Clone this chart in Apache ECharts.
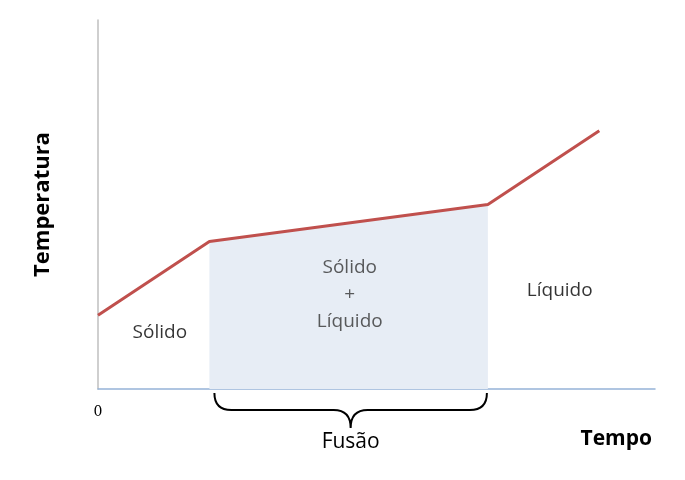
<!DOCTYPE html>
<html>
<head>
<meta charset="utf-8">
<script src="https://cdn.jsdelivr.net/npm/echarts@6/dist/echarts.min.js"></script>
<style>
  html, body { margin: 0; padding: 0; background: #fff; }
  #chart { width: 685px; height: 480px; }
</style>
</head>
<body>
<div id="chart"></div>
<script>
// heating curve: time vs temperature (arbitrary units)
const tempo = [0, 20, 70, 90]
const temperatura = [20, 40, 50, 70]

// melting plateau (shaded) and the brace under it
const fusaoInicio = 1
const fusaoFim = 2

// region labels [x, y, text]
const rotulos = [
  [11.1, 15.4, 'Sólido'],
  [45.2, 25.5, 'Sólido\n+\nLíquido'],
  [82.9, 26.6, 'Líquido']
]
const rotuloCores = ['#000000', '#333333', '#000000']

const font = '"Open Sans", "Noto Sans", sans-serif'
const chart = echarts.init(document.getElementById('chart'))

const linha = tempo.map((t, i) => [t, temperatura[i]])
const plato = linha.slice(fusaoInicio, fusaoFim + 1)

chart.setOption({
  animation: false,
  backgroundColor: '#fff',
  grid: { left: 98, right: 30, top: 20, bottom: 91 },
  xAxis: {
    type: 'value',
    min: 0,
    max: 100,
    splitLine: { show: false },
    axisTick: { show: false },
    axisLine: { lineStyle: { color: '#95b3d7', width: 1.5 } },
    axisLabel: {
      margin: 16,
      fontFamily: '"DejaVu Serif", "Liberation Serif", serif',
      fontSize: 14,
      color: '#000',
      formatter: v => (v === 0 ? '0' : '')
    }
  },
  yAxis: {
    type: 'value',
    min: 0,
    max: 100,
    name: 'Temperatura',
    nameLocation: 'middle',
    nameRotate: 90,
    nameGap: 44,
    nameTextStyle: { fontFamily: font, fontSize: 22, fontWeight: 'bold', color: '#000' },
    splitLine: { show: false },
    axisTick: { show: false },
    axisLabel: { show: false },
    axisLine: { lineStyle: { color: '#bfbfbf', width: 1.5 } }
  },
  graphic: [
    {
      type: 'text',
      right: 33,
      top: 429,
      style: { text: 'Tempo', font: 'bold 21px ' + font, fill: '#000' }
    }
  ],
  series: [
    {
      type: 'line',
      data: plato,
      symbol: 'none',
      lineStyle: { width: 0 },
      areaStyle: { color: '#e7edf5', opacity: 1, origin: 'start' },
      z: 1
    },
    {
      type: 'line',
      data: linha,
      symbol: 'none',
      lineStyle: { color: '#c0504d', width: 3 },
      z: 3
    },
    {
      type: 'scatter',
      data: rotulos.map((r, i) => ({ value: r, label: { color: rotuloCores[i] } })),
      symbolSize: 0,
      label: {
        show: true,
        position: 'inside',
        formatter: p => p.value[2],
        fontFamily: font,
        fontSize: 19,
        lineHeight: 27
      },
      z: 4
    },
    {
      // brace under the melting interval
      type: 'custom',
      data: [[tempo[fusaoInicio], tempo[fusaoFim]]],
      clip: false,
      renderItem: (params, api) => {
        const a = api.coord([api.value(0), 0])
        const b = api.coord([api.value(1), 0])
        const x0 = a[0] + 5
        const x1 = b[0] - 1
        const cx = (x0 + x1) / 2
        const yt = a[1] + 4
        const ym = a[1] + 21
        const yc = a[1] + 39
        const r = 17
        const d = `M${x0},${yt} Q${x0},${ym} ${x0 + r},${ym} L${cx - r},${ym} ` +
          `Q${cx},${ym} ${cx},${yc} Q${cx},${ym} ${cx + r},${ym} ` +
          `L${x1 - r},${ym} Q${x1},${ym} ${x1},${yt}`
        return {
          type: 'group',
          children: [
            {
              type: 'path',
              shape: { pathData: d },
              style: { stroke: '#000', lineWidth: 2, fill: null }
            },
            {
              type: 'text',
              x: cx,
              y: a[1] + 53,
              style: {
                text: 'Fusão',
                font: '21px ' + font,
                fill: '#000',
                align: 'center',
                verticalAlign: 'middle'
              }
            }
          ]
        }
      },
      z: 5
    }
  ]
})
</script>
</body>
</html>
